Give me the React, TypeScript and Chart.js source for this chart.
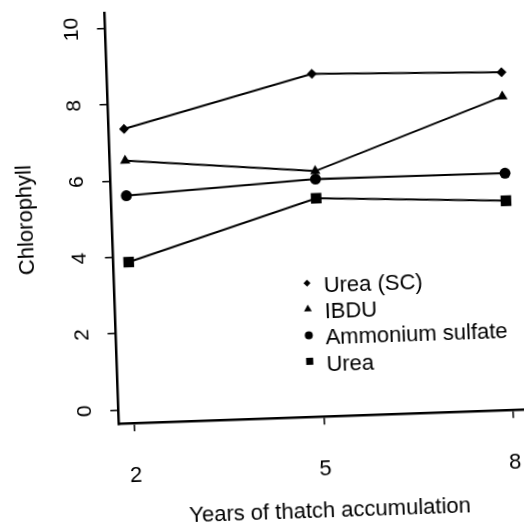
import React, { useEffect, useRef } from 'react';
import { Chart, registerables } from 'chart.js';

Chart.register(...registerables);

// ---- data ----
const years = [2, 5, 8];
const seriesNames = ['Urea (SC)', 'IBDU', 'Ammonium sulfate', 'Urea'];
const ureaSC = [7.35, 8.62, 8.49];
const ibdu = [6.52, 6.07, 7.85];
const ammoniumSulfate = [5.6, 5.86, 5.84];
const urea = [3.86, 5.36, 5.12];
const xTicks = [2, 5, 8];
const yTicks = [0, 2, 4, 6, 8, 10];
const xTitle = 'Years of thatch accumulation';
const yTitle = 'Chlorophyll';

const pointStyles = ['rectRot', 'triangle', 'circle', 'rect'];
const pointRadii = [5, 6, 5.5, 7.5];
const legendRadii = [3.5, 4.5, 4, 5];

const FONT = '"Liberation Sans", Arial, Helvetica, sans-serif';
const CW = 560;
const CH = 560;

function drawMarker(ctx: CanvasRenderingContext2D, style: string, x: number, y: number, r: number) {
  ctx.beginPath();
  if (style === 'rectRot') {
    ctx.moveTo(x, y - r);
    ctx.lineTo(x + r, y);
    ctx.lineTo(x, y + r);
    ctx.lineTo(x - r, y);
    ctx.closePath();
  } else if (style === 'triangle') {
    const h = r * 1.5;
    ctx.moveTo(x, y - r);
    ctx.lineTo(x + r * 0.866, y + r * 0.5);
    ctx.lineTo(x - r * 0.866, y + r * 0.5);
    ctx.closePath();
    void h;
  } else if (style === 'circle') {
    ctx.arc(x, y, r, 0, Math.PI * 2);
  } else {
    const s = r * Math.SQRT1_2;
    ctx.rect(x - s, y - s, 2 * s, 2 * s);
  }
  ctx.fill();
}

const textPlugin = {
  id: 'textPlugin',
  afterDraw(chart: any) {
    const ctx: CanvasRenderingContext2D = chart.ctx;
    const { left, top, bottom } = chart.chartArea;
    const xs = chart.scales.x;
    const ys = chart.scales.y;
    ctx.save();
    ctx.fillStyle = '#000';
    ctx.textAlign = 'center';
    ctx.textBaseline = 'alphabetic';

    // x tick labels
    ctx.font = `22px ${FONT}`;
    xTicks.forEach((v) => ctx.fillText(String(v), xs.getPixelForValue(v), bottom + 58.7));

    // y tick labels (rotated)
    ctx.font = `21px ${FONT}`;
    yTicks.forEach((v) => {
      ctx.save();
      ctx.translate(left - 27.5, ys.getPixelForValue(v));
      ctx.rotate(-Math.PI / 2);
      ctx.fillText(String(v), 0, 0);
      ctx.restore();
    });

    // axis titles
    ctx.font = `22px ${FONT}`;
    ctx.fillText(xTitle, left + 208.1, bottom + 100.4);
    ctx.save();
    ctx.translate(39, top + 204.2);
    ctx.rotate(-Math.PI / 2);
    ctx.fillText(yTitle, 0, 0);
    ctx.restore();

    // legend
    ctx.textAlign = 'left';
    const mx = left + 193;
    const my0 = top + 277;
    const step = 26.1;
    seriesNames.forEach((name, i) => {
      const my = my0 + i * step;
      drawMarker(ctx, pointStyles[i], mx, my, legendRadii[i]);
      ctx.fillText(name, mx + 16.6, my + 10);
    });
    ctx.restore();
  },
};

export default function App() {
  const ref = useRef<HTMLCanvasElement | null>(null);

  useEffect(() => {
    if (!ref.current) return;
    const series = [ureaSC, ibdu, ammoniumSulfate, urea];
    const chart = new Chart(ref.current, {
      type: 'line',
      data: {
        datasets: series.map((vals, i) => ({
          label: seriesNames[i],
          data: vals.map((v, j) => ({ x: years[j], y: v })),
          borderColor: '#000',
          backgroundColor: '#000',
          borderWidth: 2,
          pointStyle: pointStyles[i] as any,
          pointRadius: pointRadii[i],
          pointBorderWidth: 0,
          pointBackgroundColor: '#000',
          tension: 0,
          fill: false,
        })),
      },
      options: {
        responsive: false,
        animation: false,
        devicePixelRatio: 1,
        layout: { padding: { left: 118.3, top: 12.2, right: CW - 528.2, bottom: CH - 423.3 } },
        plugins: { legend: { display: false }, tooltip: { enabled: false }, title: { display: false } },
        scales: {
          x: {
            type: 'linear',
            min: 1.754,
            max: 8.24,
            afterFit: (s: any) => {
              s.height = 0;
            },
            afterBuildTicks: (s: any) => {
              s.ticks = xTicks.map((v) => ({ value: v }));
            },
            ticks: { display: false },
            grid: { display: true, drawOnChartArea: false, drawTicks: true, tickLength: 8, color: '#000', lineWidth: 1.5 },
            border: { display: true, color: '#000', width: 2.5 },
          },
          y: {
            type: 'linear',
            min: -0.363,
            max: 10.4,
            afterFit: (s: any) => {
              s.width = 0;
            },
            afterBuildTicks: (s: any) => {
              s.ticks = yTicks.map((v) => ({ value: v }));
            },
            ticks: { display: false },
            grid: { display: true, drawOnChartArea: false, drawTicks: true, tickLength: 8, color: '#000', lineWidth: 1.5 },
            border: { display: true, color: '#000', width: 2.5 },
          },
        },
      },
      plugins: [textPlugin],
    });
    return () => chart.destroy();
  }, []);

  return (
    <div
      style={{
        position: 'absolute',
        left: 0,
        top: 0,
        width: 524,
        height: 527,
        overflow: 'hidden',
        background: '#fff',
      }}
    >
      <canvas
        ref={ref}
        width={CW}
        height={CH}
        style={{
          display: 'block',
          width: CW,
          height: CH,
          transform: 'rotate(-2deg)',
          transformOrigin: '133.82px 409.46px',
        }}
      />
    </div>
  );
}
